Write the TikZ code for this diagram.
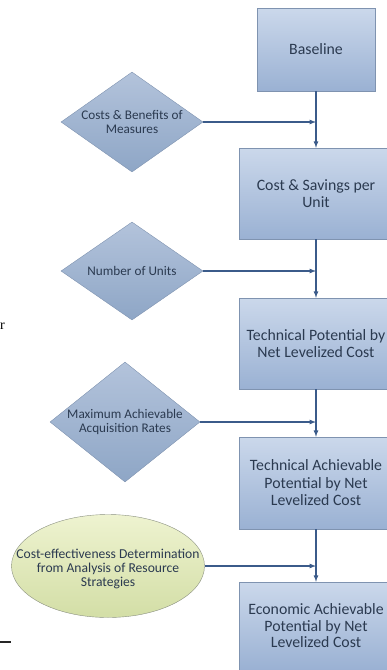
\documentclass[tikz,border=0pt]{standalone}
\usepackage{fontspec}
\setmainfont{Carlito}
\newfontfamily\pageserif{Liberation Serif}
\usetikzlibrary{shapes.geometric,arrows,shadows}
\definecolor{flowline}{HTML}{3B5B8A}
\definecolor{boxedge}{HTML}{7F93B0}
\definecolor{boxtop}{HTML}{CBD8EB}
\definecolor{boxbot}{HTML}{9AB1D3}
\definecolor{dtop}{HTML}{B3C3DB}
\definecolor{dbot}{HTML}{8EA6C6}
\definecolor{etop}{HTML}{EEF3D0}
\definecolor{ebot}{HTML}{D3DEA6}
\definecolor{eedge}{HTML}{8A9080}
\definecolor{labeltext}{HTML}{2B3A50}

\begin{document}
\begin{tikzpicture}[x=1pt,y=-1pt,>=latex,
  stage/.style={draw=boxedge,top color=boxtop,bottom color=boxbot,
    minimum width=154,minimum height=91,align=center,text=labeltext,
    drop shadow={shadow xshift=1pt,shadow yshift=-1pt,opacity=0.35},
    font=\fontsize{15.8}{17.5}\selectfont},
  inputshape/.style={diamond,draw=boxedge,top color=dtop,bottom color=dbot,inner sep=0pt},
  inputtext/.style={align=center,text=labeltext,font=\fontsize{13.2}{14.5}\selectfont},
  flow/.style={->,draw=flowline,line width=1.2pt}]

\useasboundingbox (0,0) rectangle (386,670);

% main column
\node[stage,minimum width=118,minimum height=83] (base) at (316,49.5) {Baseline};
\node[stage] (unit) at (316,193.5) {Cost \& Savings per\\Unit};
\node[stage] (tech) at (316,343.5) {Technical Potential by\\Net Levelized Cost};
\node[stage,minimum height=92] (techach) at (316,483) {Technical Achievable\\Potential by Net\\Levelized Cost};
\node[stage,minimum height=88,font=\fontsize{15.8}{16.5}\selectfont] (econ) at (316,626) {Economic Achievable\\Potential by Net\\Levelized Cost};

% inputs
\node[inputshape,minimum width=142,minimum height=100,
  label={[inputtext]center:Costs \& Benefits of\\Measures}] (costs) at (132,122) {};
\node[inputshape,minimum width=142,minimum height=98,
  label={[inputtext]center:Number of Units}] (units) at (132,271) {};
\node[inputshape,minimum width=150,minimum height=120,
  label={[inputtext]center:Maximum Achievable\\Acquisition Rates}] (rates) at (125,422) {};
\node[ellipse,draw=eedge,top color=etop,bottom color=ebot,inner sep=0pt,
  minimum width=193,minimum height=103] (strat) at (108,566) {};
\node[inputtext,font=\fontsize{13.6}{14}\selectfont] (strattext) at (108,569)
  {Cost-effectiveness Determination\\from Analysis of Resource\\Strategies};

\draw[flow] (base) -- (unit);
\draw[flow] (unit) -- (tech);
\draw[flow] (tech) -- (techach);
\draw[flow] (techach) -- (econ);

\draw[flow] (costs.east) -- (costs.east -| base.center);
\draw[flow] (units.east) -- (units.east -| base.center);
\draw[flow] (rates.east) -- (rates.east -| base.center);
\draw[flow] (strat.east) -- (strat.east -| base.center);

% cut-off page bits
\node[anchor=east,inner sep=0pt,font=\pageserif\fontsize{14}{14}\selectfont] (pagebit) at (5,326) {r};
\coordinate (rulestart) at (0,642);
\coordinate (ruleend) at (11,642);
\draw[line width=1.5pt,black!85] (rulestart) -- (ruleend);

\end{tikzpicture}
\end{document}
